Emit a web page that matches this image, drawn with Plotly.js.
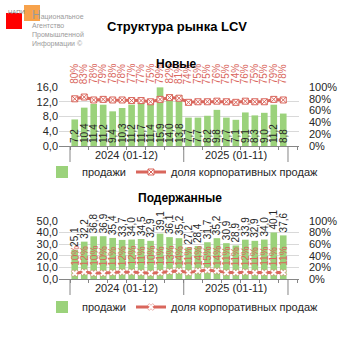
<!DOCTYPE html>
<html><head><meta charset="utf-8">
<script src="https://cdn.plot.ly/plotly-3.0.1.min.js"></script>
<style>html,body{margin:0;padding:0;background:#fff}#c{width:353px;height:353px}</style>
</head><body><div id="c"></div>
<script>
// ---- data ----
const months = ["2024-01","2024-02","2024-03","2024-04","2024-05","2024-06","2024-07","2024-08","2024-09","2024-10","2024-11","2024-12",
                "2025-01","2025-02","2025-03","2025-04","2025-05","2025-06","2025-07","2025-08","2025-09","2025-10","2025-11"];
const groups = ["2024 (01-12)", "2025 (01-11)"];
const groupSizes = [12, 11];
const newSales = [7.2,10.4,11.4,11.2,9.4,10.3,11.2,11.7,11.4,15.9,14.0,13.8, 7.7,7.7,8.2,9.8,7.7,7.1,9.1,8.3,9.0,11.2,8.8];
const newCorp = [0.80,0.83,0.78,0.79,0.78,0.78,0.77,0.77,0.75,0.79,0.82,0.81, 0.74,0.75,0.75,0.76,0.75,0.74,0.76,0.75,0.75,0.79,0.78];
const usedSales = [25.1,32.2,36.8,36.9,35.4,33.7,34.0,34.5,32.9,39.1,36.1,35.2, 27.2,28.4,31.7,35.2,30.9,28.9,33.9,32.9,34.0,40.1,37.6];
const usedCorp = [0.10,0.12,0.10,0.10,0.11,0.12,0.12,0.11,0.10,0.11,0.13,0.14, 0.11,0.14,0.15,0.14,0.11,0.11,0.12,0.11,0.11,0.11,0.11];
const seriesNames = ["продажи", "доля корпоративных продаж"];
const titleText = "Структура рынка LCV";
const subTitles = ["Новые", "Подержанные"];

// ---- helpers ----
const W = 353, H = 353;
const px = x => x / W, py = y => 1 - y / H;
const fmt = v => v.toFixed(1).replace('.', ',');
const pct = v => Math.round(v * 100) + '%';
const FONT = 'Liberation Sans, Arial, sans-serif';
const GREEN = '#9bd27b', RED = '#d9665c', TXT = '#262626';

const xDom = [px(59), px(299)];
const topDom = [py(146), py(87)];
const botDom = [py(279), py(221)];

const traces = [
  {type:'bar', x:months, y:newSales, xaxis:'x', yaxis:'y', name:seriesNames[0], legend:'legend',
   marker:{color:GREEN}, text:newSales.map(fmt), textposition:'inside', insidetextanchor:'start',
   textangle:-90, constraintext:'none', textfont:{size:10, color:TXT, family:FONT}, hoverinfo:'skip'},
  {type:'scatter', mode:'lines+markers', x:months, y:newCorp, xaxis:'x', yaxis:'y2', name:seriesNames[1], legend:'legend',
   line:{color:RED, width:3}, marker:{symbol:'square-x', size:6, color:'#fff', line:{color:RED, width:1}}, hoverinfo:'skip'},
  {type:'bar', x:months, y:usedSales, xaxis:'x2', yaxis:'y3', name:seriesNames[0], legend:'legend2',
   marker:{color:GREEN}, text:usedSales.map(fmt), textposition:'outside', cliponaxis:false,
   textangle:-90, constraintext:'none', textfont:{size:10, color:TXT, family:FONT}, hoverinfo:'skip'},
  {type:'scatter', mode:'lines+markers', x:months, y:usedCorp, xaxis:'x2', yaxis:'y4', name:seriesNames[1], legend:'legend2',
   line:{color:RED, width:3}, marker:{symbol:'x', size:6, color:'#fff', line:{color:RED, width:0.5}}, hoverinfo:'skip'}
];

const shapes = [], annotations = [];
// group dividers + group labels
function addGroups(xref, yAxisBottomPx) {
  let start = 0;
  const bounds = [-0.5];
  groups.forEach((g, i) => {
    const end = start + groupSizes[i];
    bounds.push(end - 0.5);
    annotations.push({xref:xref, yref:'paper', x:(start + end - 1) / 2, y:py(yAxisBottomPx + 9), text:g,
      showarrow:false, font:{size:11, color:TXT, family:FONT}, yanchor:'middle'});
    start = end;
  });
  bounds.forEach(b => shapes.push({type:'line', xref:xref, yref:'paper', x0:b, x1:b,
    y0:py(yAxisBottomPx), y1:py(yAxisBottomPx + 16), line:{color:'#868686', width:1}}));
}
addGroups('x', 146);
addGroups('x2', 279);

// percent labels
newCorp.forEach((v, i) => annotations.push({xref:'x', yref:'paper', x:i, y:py(86), yanchor:'bottom',
  text:pct(v), textangle:-90, showarrow:false, font:{size:10, color:RED, family:FONT}}));
usedCorp.forEach((v, i) => annotations.push({xref:'x2', yref:'paper', x:i, y:py(268), yanchor:'bottom',
  text:pct(v), textangle:-90, showarrow:false, font:{size:10, color:RED, family:FONT}}));

// titles
annotations.push({xref:'paper', yref:'paper', x:px(177), y:py(17), text:'<b>' + titleText + '</b>', showarrow:false,
  font:{size:13, color:'#000', family:FONT}});
annotations.push({xref:'paper', yref:'paper', x:px(176), y:py(55), text:'<b>' + subTitles[0] + '</b>', showarrow:false,
  font:{size:12, color:'#000', family:FONT}});
annotations.push({xref:'paper', yref:'paper', x:px(180), y:py(198), text:'<b>' + subTitles[1] + '</b>', showarrow:false,
  font:{size:12, color:'#000', family:FONT}});

// logo
shapes.push({type:'rect', xref:'paper', yref:'paper', x0:px(6), x1:px(22), y0:py(29), y1:py(13), fillcolor:'#ff0000', line:{width:0}});
shapes.push({type:'rect', xref:'paper', yref:'paper', x0:px(24), x1:px(40), y0:py(21), y1:py(5), fillcolor:'#f7a24b', line:{width:0}});
annotations.push({xref:'paper', yref:'paper', x:px(6), y:py(7), xanchor:'left', text:'НАПИ', showarrow:false,
  font:{size:6, color:'#7f7f7f', family:FONT}});
const logoLines = ['<span style="font-size:12px">Н</span>ациональное', 'Агентство', 'Промышленной', 'Информации ©'];
annotations.push({xref:'paper', yref:'paper', x:px(31), y:py(7), xanchor:'left', yanchor:'top', align:'left',
  text:logoLines.join('<br>'), showarrow:false, borderpad:0, font:{size:7, color:'#9a9a9a', family:FONT}});

const xCommon = {type:'category', categoryorder:'array', categoryarray:months, domain:xDom, showticklabels:false,
  ticks:'outside', tickson:'boundaries', ticklen:3, tickcolor:'#868686', showline:true, linecolor:'#868686',
  showgrid:false, zeroline:false, fixedrange:true};
const yLeft = {showgrid:true, gridcolor:'#d9d9d9', zeroline:false, tickformat:'.1f',
  tickfont:{size:11, color:TXT, family:FONT}, fixedrange:true};
const yRight = {side:'right', range:[0,1], dtick:0.2, tick0:0, tickformat:'.0%', showgrid:false, zeroline:false,
  tickfont:{size:11, color:TXT, family:FONT}, ticklabelstandoff:9, fixedrange:true};

const legendCommon = {orientation:'h', xanchor:'left', yanchor:'middle',
  font:{size:11, color:TXT, family:FONT}, bgcolor:'rgba(0,0,0,0)', itemclick:false, itemdoubleclick:false};

const layout = {
  width:W, height:H, margin:{l:0, r:0, t:0, b:0}, autosize:false,
  paper_bgcolor:'#fff', plot_bgcolor:'rgba(0,0,0,0)', separators:', ',
  font:{family:FONT, size:11, color:TXT}, bargap:0.3, showlegend:true,
  xaxis:Object.assign({}, xCommon, {anchor:'y'}),
  xaxis2:Object.assign({}, xCommon, {anchor:'y3'}),
  yaxis:Object.assign({}, yLeft, {domain:topDom, range:[0,16], dtick:4, anchor:'x'}),
  yaxis2:Object.assign({}, yRight, {overlaying:'y', anchor:'x'}),
  yaxis3:Object.assign({}, yLeft, {domain:botDom, range:[0,50], dtick:10, anchor:'x2'}),
  yaxis4:Object.assign({}, yRight, {overlaying:'y3', anchor:'x2'}),
  legend:Object.assign({}, legendCommon, {x:px(42), y:py(172)}),
  legend2:Object.assign({}, legendCommon, {x:px(42), y:py(307)}),
  shapes:shapes, annotations:annotations
};

Plotly.newPlot('c', traces, layout, {staticPlot:true, displayModeBar:false});
</script>
</body></html>
